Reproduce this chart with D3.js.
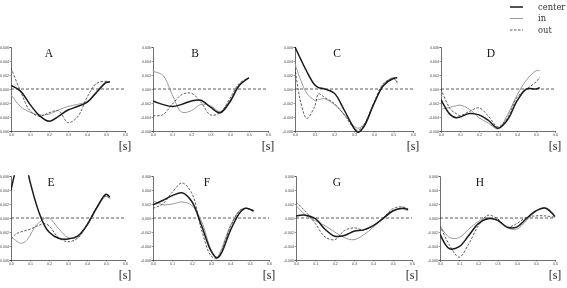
<!DOCTYPE html>
<html><head><meta charset="utf-8">
<script src="https://cdn.jsdelivr.net/npm/d3@7"></script>
<style>body{margin:0;background:#fff;}svg{display:block;filter:grayscale(1);}</style>
</head><body>
<svg id="c" width="567" height="288"></svg>
<script>
// ---- data ----
const panelNames = ["A","B","C","D","E","F","G","H"];
const seriesNames = ["center","in","out"];
const xTicks = [0,0.1,0.2,0.3,0.4,0.5,0.6];
const yTicks = [-0.006,-0.004,-0.002,0,0.002,0.004,0.006];

const xA = [0,0.05,0.1,0.15,0.2,0.25,0.3,0.35,0.4,0.45,0.5,0.52];
const centerA = [0.0005,-0.0003,-0.0022,-0.0038,-0.0046,-0.0039,-0.0030,-0.0025,-0.0019,-0.0005,0.0009,0.0010];
const inA = [-0.0008,-0.0025,-0.0033,-0.0037,-0.0036,-0.0030,-0.0025,-0.0022,-0.0018,-0.0003,0.0010,0.0010];
const outA = [0.0030,-0.0003,-0.0031,-0.0039,-0.0034,-0.0031,-0.0048,-0.0040,-0.0012,0.0008,0.0011,0.0010];

const xB = [0,0.05,0.1,0.15,0.2,0.25,0.3,0.35,0.4,0.45,0.5];
const centerB = [-0.0017,-0.0022,-0.0025,-0.0022,-0.0017,-0.0016,-0.0026,-0.0034,-0.0019,0.0005,0.0016];
const inB = [0.0025,0.0020,-0.0008,-0.0033,-0.0031,-0.0022,-0.0024,-0.0032,-0.0017,0.0006,0.0016];
const outB = [-0.0038,-0.0037,-0.0022,-0.0008,-0.0006,-0.0019,-0.0037,-0.0034,-0.0014,0.0008,0.0016];

const xC = [0,0.03,0.06,0.1,0.12,0.15,0.2,0.25,0.3,0.32,0.35,0.4,0.45,0.5,0.52];
const centerC = [0.0060,0.0042,0.0025,0.0006,0.0002,0.0000,-0.0006,-0.0030,-0.0056,-0.0062,-0.0054,-0.0022,0.0005,0.0015,0.0016];
const inC = [0.0036,0.0012,-0.0006,-0.0016,-0.0015,-0.0014,-0.0022,-0.0036,-0.0053,-0.0056,-0.0051,-0.0022,0.0006,0.0016,0.0008];
const outC = [0.0030,-0.0020,-0.0042,-0.0025,-0.0007,-0.0012,-0.0021,-0.0037,-0.0056,-0.0059,-0.0052,-0.0020,0.0008,0.0015,0.0010];

const xD = [0,0.05,0.08,0.1,0.15,0.2,0.25,0.3,0.35,0.4,0.45,0.5,0.52];
const centerD = [-0.0015,-0.0037,-0.0041,-0.0040,-0.0035,-0.0037,-0.0045,-0.0056,-0.0044,-0.0017,0.0000,0.0000,0.0002];
const inD = [-0.0029,-0.0026,-0.0024,-0.0023,-0.0029,-0.0041,-0.0049,-0.0057,-0.0037,-0.0009,0.0013,0.0026,0.0026];
const outD = [0.0000,-0.0029,-0.0035,-0.0038,-0.0032,-0.0027,-0.0039,-0.0054,-0.0041,-0.0012,0.0000,0.0010,0.0017];

const xE = [0,0.025,0.05,0.075,0.1,0.125,0.15,0.175,0.2,0.25,0.3,0.35,0.4,0.45,0.5,0.52];
const centerE = [0.0040,0.0068,0.0085,0.0078,0.0052,0.0027,0.0006,-0.0010,-0.0020,-0.0029,-0.0030,-0.0026,-0.0010,0.0014,0.0034,0.0030];
const inE = [-0.0027,-0.0032,-0.0036,-0.0034,-0.0025,-0.0013,-0.0006,-0.0001,0.0000,-0.0015,-0.0028,-0.0028,-0.0011,0.0013,0.0031,0.0027];
const outE = [-0.0030,-0.0023,-0.0020,-0.0018,-0.0016,-0.0013,-0.0010,-0.0008,-0.0011,-0.0028,-0.0034,-0.0029,-0.0009,0.0015,0.0032,0.0028];

const xF = [0,0.05,0.1,0.15,0.2,0.25,0.3,0.33,0.35,0.4,0.45,0.48,0.52];
const centerF = [0.0019,0.0025,0.0032,0.0036,0.0024,-0.0010,-0.0047,-0.0057,-0.0052,-0.0018,0.0008,0.0014,0.0010];
const inF = [0.0025,0.0019,0.0020,0.0023,0.0018,-0.0004,-0.0045,-0.0056,-0.0047,-0.0011,0.0011,0.0014,0.0009];
const outF = [0.0014,0.0020,0.0037,0.0050,0.0036,-0.0016,-0.0054,-0.0058,-0.0050,-0.0013,0.0011,0.0014,0.0011];

const xG = [0,0.05,0.1,0.15,0.2,0.25,0.3,0.35,0.4,0.45,0.5,0.55,0.58];
const centerG = [0.0003,0.0004,-0.0001,-0.0016,-0.0026,-0.0025,-0.0019,-0.0017,-0.0011,-0.0001,0.0010,0.0014,0.0012];
const inG = [0.0018,0.0004,-0.0004,-0.0011,-0.0020,-0.0028,-0.0031,-0.0024,-0.0013,0.0000,0.0010,0.0013,0.0010];
const outG = [0.0023,0.0009,-0.0008,-0.0027,-0.0031,-0.0018,-0.0014,-0.0017,-0.0011,0.0000,0.0013,0.0016,0.0013];

const xH = [0,0.05,0.1,0.15,0.2,0.25,0.3,0.35,0.4,0.45,0.5,0.55,0.6];
const centerH = [-0.0023,-0.0044,-0.0041,-0.0025,-0.0008,-0.0001,-0.0003,-0.0013,-0.0013,-0.0001,0.0010,0.0014,0.0002];
const inH = [-0.0011,-0.0028,-0.0028,-0.0016,-0.0005,0.0001,-0.0004,-0.0014,-0.0016,-0.0004,0.0010,0.0015,0.0003];
const outH = [-0.0011,-0.0039,-0.0056,-0.0037,-0.0011,0.0004,-0.0001,-0.0013,-0.0008,0.0001,0.0003,0.0003,0.0001];

const dataX = {A:xA,B:xB,C:xC,D:xD,E:xE,F:xF,G:xG,H:xH};
const dataY = {
  A:[centerA,inA,outA], B:[centerB,inB,outB], C:[centerC,inC,outC], D:[centerD,inD,outD],
  E:[centerE,inE,outE], F:[centerF,inF,outF], G:[centerG,inG,outG], H:[centerH,inH,outH]
};

// ---- layout ----
const layout = {
  A:{x0:11,x1:125,top:47,bot:131,tx:49},
  B:{x0:153,x1:268,top:47,bot:131,tx:195},
  C:{x0:295,x1:413,top:47,bot:131,tx:337},
  D:{x0:441,x1:555,top:47,bot:131,tx:491},
  E:{x0:11,x1:125,top:176,bot:260,tx:51},
  F:{x0:153,x1:269,top:176,bot:260,tx:207},
  G:{x0:296,x1:412,top:176,bot:260,tx:337},
  H:{x0:440,x1:555,top:176,bot:260,tx:480}
};
const styles = {
  center:{stroke:"#1a1a1a",width:1.5,dash:null},
  in:{stroke:"#9a9a9a",width:1,dash:null},
  out:{stroke:"#333",width:0.8,dash:"2.5,1.5"}
};
const serif = "'Liberation Serif','DejaVu Serif',serif";
const dserif = "'DejaVu Serif','Liberation Serif',serif";
const sans = "'Liberation Sans','DejaVu Sans',sans-serif";
const yFmt = d => (d<0?"-":"") + Math.abs(d).toFixed(3);

const svg = d3.select("#c");
const defs = svg.append("defs");

panelNames.forEach(name => {
  const L = layout[name];
  const xs = d3.scaleLinear().domain([0,0.6]).range([L.x0,L.x1]);
  const ys = d3.scaleLinear().domain([-0.006,0.006]).range([L.bot,L.top]);
  const g = svg.append("g");

  defs.append("clipPath").attr("id","clip"+name).append("rect")
    .attr("x",L.x0).attr("y",ys(0.006)-0.8)
    .attr("width",L.x1-L.x0+4).attr("height",ys(-0.0066)-ys(0.006)+0.8);

  // zero line
  g.append("line").attr("x1",xs(0)).attr("x2",xs(0.6)).attr("y1",ys(0)).attr("y2",ys(0))
    .attr("stroke","#333").attr("stroke-width",0.8).attr("stroke-dasharray","3,2");

  // axes
  const ya = g.append("g").attr("transform",`translate(${L.x0},0)`)
    .call(d3.axisLeft(ys).tickValues(yTicks).tickSize(1.5).tickPadding(0.6).tickFormat(yFmt));
  const xa = g.append("g").attr("transform",`translate(0,${L.bot})`)
    .call(d3.axisBottom(xs).tickValues(xTicks).tickSize(1.5).tickPadding(1).tickFormat(d3.format(".1f")));
  [ya,xa].forEach(a => {
    a.select(".domain").attr("stroke","#333").attr("stroke-width",0.7);
    a.selectAll(".tick line").attr("stroke","#333").attr("stroke-width",0.5);
    a.selectAll("text").attr("font-size",3.6).attr("font-family",sans).attr("fill","#444");
  });

  // curves
  const xv = dataX[name];
  const lines = g.append("g").attr("clip-path",`url(#clip${name})`);
  const order = [1,2,0];
  order.forEach(si => {
    const s = styles[seriesNames[si]];
    const pts = xv.map((x,i) => [x, dataY[name][si][i]]);
    const line = d3.line().x(d=>xs(d[0])).y(d=>ys(d[1])).curve(d3.curveCatmullRom.alpha(0.5));
    lines.append("path").attr("d",line(pts)).attr("fill","none")
      .attr("stroke",s.stroke).attr("stroke-width",s.width)
      .attr("stroke-dasharray",s.dash);
  });

  // title
  g.append("text").attr("x",L.tx).attr("y",L.top+10).attr("text-anchor","middle")
    .attr("font-family",serif).attr("font-size",11.5).attr("fill","#111").text(name);
  // unit
  g.append("text").attr("x",L.x1).attr("y",L.bot+19).attr("text-anchor","middle")
    .attr("font-family",serif).attr("font-size",12).attr("fill","#222").text("[s]");
});

// legend
const leg = svg.append("g");
const legY = [7,18.5,30];
seriesNames.forEach((n,i) => {
  const s = styles[n];
  leg.append("line").attr("x1",510).attr("x2",523).attr("y1",legY[i]).attr("y2",legY[i])
    .attr("stroke",s.stroke).attr("stroke-width",n==="center"?1.5:(n==="in"?1:0.8))
    .attr("stroke-dasharray",s.dash);
  leg.append("text").attr("x",538).attr("y",legY[i]+2.5)
    .attr("font-family",dserif).attr("font-size",8.4).attr("fill","#333").text(n);
});
</script>
</body></html>
